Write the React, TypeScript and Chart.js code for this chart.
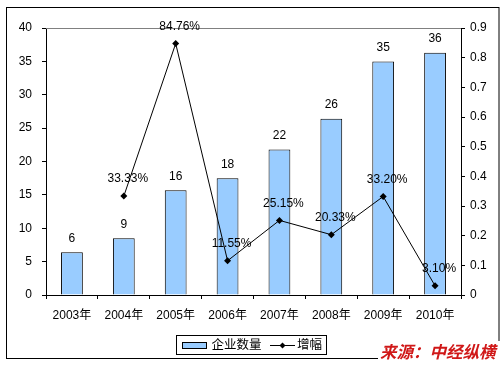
import React, { useEffect, useRef } from "react";
import { Chart, registerables } from "chart.js";

Chart.register(...registerables);

const years = ["2003年", "2004年", "2005年", "2006年", "2007年", "2008年", "2009年", "2010年"];
const enterpriseCounts = [6.4, 8.5, 15.7, 17.5, 21.8, 26.4, 35.0, 36.3];
const growthRates = [null, 0.3333, 0.8476, 0.1155, 0.2515, 0.2033, 0.332, 0.031];
const barLabel = "企业数量";
const lineLabel = "增幅";
const sourceText = "来源：中经纵横";

const FONT = "'Liberation Sans', Arial, 'Noto Sans CJK SC', sans-serif";

const decorPlugin = {
  id: "decor",
  beforeDraw(chart: any) {
    const { ctx } = chart;
    ctx.save();
    ctx.fillStyle = "#fff";
    ctx.fillRect(0, 0, chart.width, chart.height);
    ctx.restore();
  },
  afterDraw(chart: any) {
    const { ctx, chartArea } = chart;
    ctx.save();
    ctx.strokeStyle = "#808080";
    ctx.lineWidth = 1;
    ctx.beginPath();
    ctx.moveTo(chartArea.left, Math.round(chartArea.top) + 0.5);
    ctx.lineTo(chartArea.right, Math.round(chartArea.top) + 0.5);
    ctx.stroke();

    ctx.strokeStyle = "#000";
    ctx.strokeRect(6.5, 7.5, 492.5, 351);

    ctx.fillStyle = "#000";
    ctx.font = "12px " + FONT;
    ctx.textAlign = "center";
    ctx.textBaseline = "middle";
    const barMeta = chart.getDatasetMeta(1);
    barMeta.data.forEach((el: any, i: number) => {
      const v = enterpriseCounts[i];
      ctx.fillText(String(Math.round(v)), el.x, el.y - 14);
    });
    const lineMeta = chart.getDatasetMeta(0);
    lineMeta.data.forEach((el: any, i: number) => {
      const v = growthRates[i];
      if (v === null || v === undefined) return;
      ctx.fillText((v * 100).toFixed(2) + "%", el.x + 4, el.y - 17);
    });

    ctx.strokeStyle = "#000";
    ctx.lineWidth = 1;
    ctx.fillStyle = "#fff";
    ctx.fillRect(176.5, 335.5, 150, 19);
    ctx.strokeRect(176.5, 335.5, 150, 19);
    ctx.fillStyle = "#99CCFF";
    ctx.fillRect(182.5, 342.5, 24, 6);
    ctx.strokeRect(182.5, 342.5, 24, 6);
    ctx.fillStyle = "#000";
    ctx.font = "12.5px " + FONT;
    ctx.textAlign = "left";
    ctx.textBaseline = "middle";
    ctx.fillText(barLabel, 211.5, 345.5);
    ctx.beginPath();
    ctx.moveTo(270, 345.5);
    ctx.lineTo(295, 345.5);
    ctx.stroke();
    ctx.beginPath();
    ctx.moveTo(282.5, 342.5);
    ctx.lineTo(285.5, 345.5);
    ctx.lineTo(282.5, 348.5);
    ctx.lineTo(279.5, 345.5);
    ctx.closePath();
    ctx.fill();
    ctx.fillText(lineLabel, 297, 345.5);

    ctx.fillStyle = "#fff";
    ctx.fillRect(378, 341, 125, 24);
    ctx.fillStyle = "#D01818";
    ctx.font = "italic bold 16.5px 'Noto Sans CJK SC', sans-serif";
    ctx.textAlign = "left";
    ctx.textBaseline = "middle";
    ctx.fillText(sourceText, 380, 352);
    ctx.restore();
  },
};

export default function App() {
  const ref = useRef<HTMLCanvasElement | null>(null);
  useEffect(() => {
    document.body.style.margin = "0";
    const canvas = ref.current;
    if (!canvas) return;
    const tickFont = { family: FONT, size: 12 };
    const chart = new Chart(canvas, {
      type: "bar",
      data: {
        labels: years,
        datasets: [
          {
            type: "line",
            label: lineLabel,
            data: growthRates as any,
            yAxisID: "y1",
            borderColor: "#000",
            backgroundColor: "#000",
            borderWidth: 1,
            pointStyle: "rectRot",
            pointRadius: 3.5,
            pointBackgroundColor: "#000",
            pointBorderColor: "#000",
            pointBorderWidth: 0,
            tension: 0,
            order: 0,
          } as any,
          {
            type: "bar",
            label: barLabel,
            data: enterpriseCounts,
            yAxisID: "y",
            backgroundColor: "#99CCFF",
            borderColor: "#000",
            borderWidth: 1,
            barPercentage: 0.42,
            categoryPercentage: 1,
            order: 1,
          },
        ],
      },
      options: {
        animation: false,
        responsive: true,
        maintainAspectRatio: false,
        layout: { padding: { top: 28, bottom: 40, left: 0, right: 0 } },
        plugins: { legend: { display: false }, tooltip: { enabled: false } },
        scales: {
          x: {
            offset: true,
            grid: { display: true, offset: true, drawOnChartArea: false, drawTicks: true, tickLength: 4, color: "#000" },
            border: { display: true, color: "#000", width: 1 },
            ticks: { font: tickFont, color: "#000", padding: 9, maxRotation: 0, autoSkip: false },
            afterFit: (s: any) => { s.height = 30; },
          },
          y: {
            position: "left",
            min: 0,
            max: 40,
            grid: { drawOnChartArea: false, drawTicks: true, tickLength: 4, color: "#000" },
            border: { display: true, color: "#000", width: 1 },
            ticks: { stepSize: 5, font: tickFont, color: "#000", padding: 10 },
            afterFit: (s: any) => { s.width = 46; },
          },
          y1: {
            position: "right",
            min: 0,
            max: 0.9,
            grid: { drawOnChartArea: false, drawTicks: true, tickLength: 4, color: "#000" },
            border: { display: true, color: "#000", width: 1 },
            ticks: {
              stepSize: 0.1,
              font: tickFont,
              color: "#000",
              padding: 5,
              callback: (v: any) => (Number(v) === 0 ? "0" : Number(v).toFixed(1)),
            },
            afterFit: (s: any) => { s.width = 42; },
          },
        },
      },
      plugins: [decorPlugin],
    });
    return () => chart.destroy();
  }, []);
  return (
    <div style={{ position: "relative", width: 503, height: 365 }}>
      <canvas ref={ref} />
    </div>
  );
}
